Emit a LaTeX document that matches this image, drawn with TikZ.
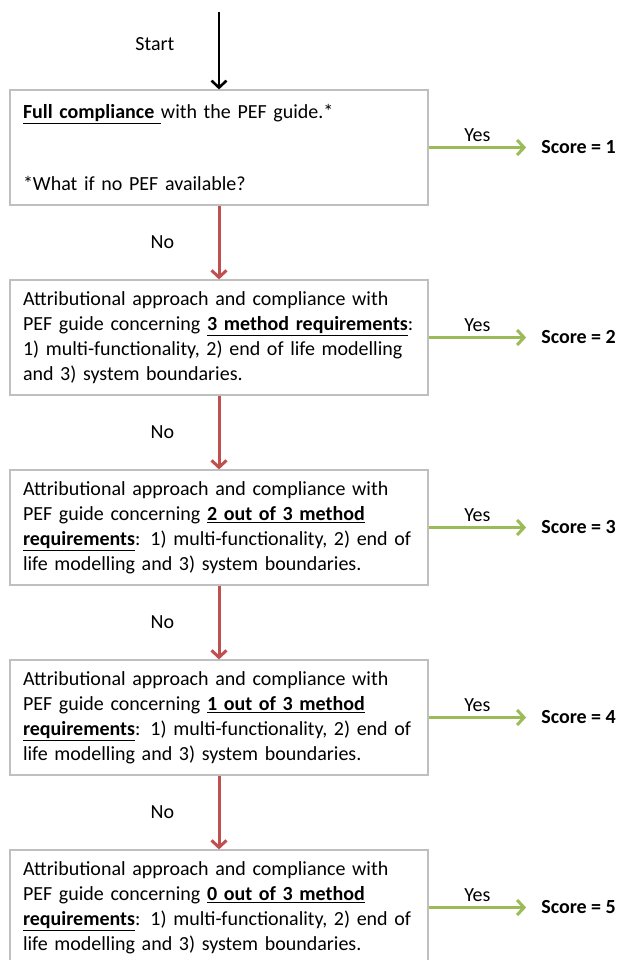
\documentclass[tikz,border=0pt]{standalone}
\usepackage{fontspec}
\setmainfont{Carlito}
\usetikzlibrary{arrows.meta}
\definecolor{nored}{RGB}{192,80,77}
\definecolor{yesgreen}{RGB}{155,187,89}
\definecolor{boxgray}{RGB}{191,191,191}

\begin{document}
\begin{tikzpicture}[x=1pt,y=-1pt,
  every node/.style={font=\fontsize{20}{25}\selectfont,text=black},
  crit/.style={draw=boxgray,line width=1.2pt,fill=white,text width=392pt,
    inner xsep=13pt,inner ysep=0pt,minimum height=115pt,align=left},
  score/.style={font=\fontsize{20}{25}\selectfont\bfseries,inner xsep=15pt},
  yesarrow/.style={yesgreen,line width=3pt,-{Straight Barb[length=7pt,width=15pt]}},
  noarrow/.style={nored,line width=3pt,-{Straight Barb[length=7pt,width=15pt]}},
  startarrow/.style={black,line width=2.6pt,-{Straight Barb[length=7pt,width=15pt]}}]
 \useasboundingbox (0,0) rectangle (620,960);
 \coordinate (start) at (219,12);
 % criteria boxes
 \node[crit] (box1) at (219,147.5)
  {\underline{\textbf{Full compliance\ }}with the PEF guide.*\\[47pt]
   *What if no PEF available?};
 \node[crit] (box2) at (219,337.5)
  {Attributional approach and compliance with\\
   PEF guide concerning \underline{\textbf{3 method requirements}}:\\
   1) multi-functionality, 2) end of life modelling\\
   and 3) system boundaries.};
 \node[crit] (box3) at (219,527.5)
  {Attributional approach and compliance with\\
   PEF guide concerning \underline{\textbf{2 out of 3 method}}\\
   \underline{\textbf{requirements}}: 1) multi-functionality, 2) end of\\
   life modelling and 3) system boundaries.};
 \node[crit] (box4) at (219,717.5)
  {Attributional approach and compliance with\\
   PEF guide concerning \underline{\textbf{1 out of 3 method}}\\
   \underline{\textbf{requirements}}: 1) multi-functionality, 2) end of\\
   life modelling and 3) system boundaries.};
 \node[crit] (box5) at (219,907.5)
  {Attributional approach and compliance with\\
   PEF guide concerning \underline{\textbf{0 out of 3 method}}\\
   \underline{\textbf{requirements}}: 1) multi-functionality, 2) end of\\
   life modelling and 3) system boundaries.};
 \draw[startarrow] (start) -- node[left=40pt,pos=0.41]{Start} (box1);
 % yes branches
 \foreach \i in {1,...,5}
 {\path (box\i.east) ++(150,0) node[score] (score\i) {Score = \i};
  \draw[yesarrow] (box\i) -- node[above=1pt]{Yes} (score\i);}
 % no branches
 \foreach \i/\j in {1/2,2/3,3/4,4/5}
 {\draw[noarrow] (box\i) -- node[left=40pt]{No} (box\j);}
\end{tikzpicture}
\end{document}
